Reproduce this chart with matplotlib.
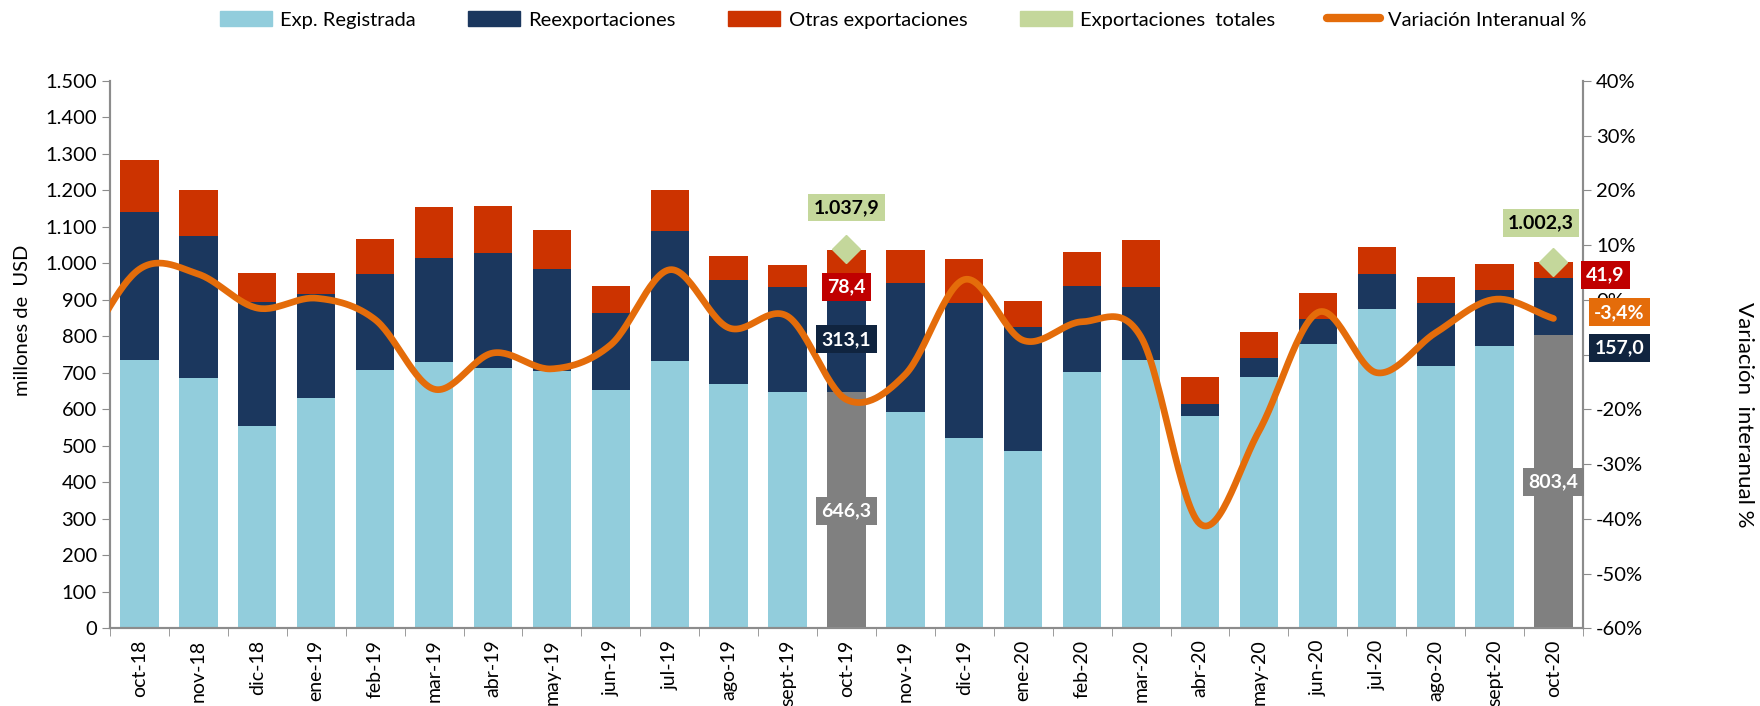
import numpy as np
import matplotlib.pyplot as plt
from matplotlib.patches import Patch
from matplotlib.lines import Line2D

plt.rcParams['font.family'] = ['Lato', 'DejaVu Sans']

# Data (millones de USD)
meses = ['oct-18', 'nov-18', 'dic-18', 'ene-19', 'feb-19', 'mar-19', 'abr-19', 'may-19',
         'jun-19', 'jul-19', 'ago-19', 'sept-19', 'oct-19', 'nov-19', 'dic-19', 'ene-20',
         'feb-20', 'mar-20', 'abr-20', 'may-20', 'jun-20', 'jul-20', 'ago-20', 'sept-20', 'oct-20']
exp_registrada = [735, 685, 555, 631, 709, 729, 713, 704, 653, 732, 669, 649, 646.3,
                  593, 521, 486, 702, 736, 581, 688, 779, 875, 718, 773, 803.4]
reexportaciones = [406, 391, 338, 284, 263, 285, 316, 281, 211, 356, 286, 287, 313.1,
                   354, 370, 339, 237, 200, 35, 52, 68, 95, 174, 154, 157.0]
otras_exp = [143, 124, 80, 58, 95, 141, 127, 107, 75, 114, 65, 59, 78.4,
             90, 121, 72, 92, 127, 72, 71, 73, 75, 71, 72, 41.9]
# variación interanual %, first value is sept-18 (only partly visible at the left edge)
var_meses = ['sept-18'] + meses
var_interanual = [-10.0, 5.6, 4.7, -1.5, 0.3, -3.6, -16.3, -9.7, -12.6, -8.2, 5.5, -5.1, -3.0,
                  -18.2, -13.6, 3.7, -7.4, -4.0, -6.8, -40.9, -24.0, -2.3, -13.3, -6.0, 0.1, -3.4]
destacados = ['oct-19', 'oct-20']
totales_destacados = [1037.9, 1002.3]

c_reg = '#92CDDC'
c_reex = '#1B375E'
c_otras = '#CC3300'
c_total = '#C4D79B'
c_var = '#E46C0A'
c_gris = '#808080'
c_spine = '#8C8C8C'


def fmt(v, dec=1):
    s = f'{v:,.{dec}f}'
    return s.replace(',', 'X').replace('.', ',').replace('X', '.')


def smooth(y, n=30):
    # Excel-like smoothed line (Catmull-Rom through the points)
    y = np.asarray(y, float)
    m = np.empty_like(y)
    m[1:-1] = (y[2:] - y[:-2]) / 2
    m[0] = y[1] - y[0]
    m[-1] = y[-1] - y[-2]
    xs, ys = [], []
    t = np.linspace(0, 1, n, endpoint=False)
    for i in range(len(y) - 1):
        h00 = 2 * t**3 - 3 * t**2 + 1
        h10 = t**3 - 2 * t**2 + t
        h01 = -2 * t**3 + 3 * t**2
        h11 = t**3 - t**2
        xs.append(i + t)
        ys.append(h00 * y[i] + h10 * m[i] + h01 * y[i + 1] + h11 * m[i + 1])
    xs.append([len(y) - 1])
    ys.append([y[-1]])
    return np.concatenate(xs), np.concatenate(ys)


x = np.arange(len(meses))
reg = np.array(exp_registrada)
reex = np.array(reexportaciones)
otr = np.array(otras_exp)
col_reg = [c_gris if m in destacados else c_reg for m in meses]

fig = plt.figure(figsize=(17.6, 7.06), dpi=100)
ax = fig.add_axes([0.0625, 0.1098, 0.8369, 0.7758])
w = 0.65
ax.bar(x, reg, w, color=col_reg, zorder=2)
ax.bar(x, reex, w, bottom=reg, color=c_reex, zorder=2)
ax.bar(x, otr, w, bottom=reg + reex, color=c_otras, zorder=2)

ax.set_xlim(-0.5, len(meses) - 0.5)
ax.set_ylim(0, 1500)
ax.set_yticks(np.arange(0, 1501, 100))
ax.set_yticklabels([fmt(v, 0) for v in np.arange(0, 1501, 100)], fontsize=14.5)
ax.set_xticks(x)
ax.set_xticklabels(meses, rotation=90, fontsize=14)
ax.set_xticks(np.arange(-0.5, len(meses), 1), minor=True)
ax.tick_params(axis='x', which='major', length=0, pad=8)
ax.tick_params(axis='x', which='minor', length=6, direction='out', color=c_spine)
ax.tick_params(axis='y', length=6, direction='out', color=c_spine)
ax.spines['top'].set_visible(False)
for s in ['left', 'bottom', 'right']:
    ax.spines[s].set_color(c_spine)
    ax.spines[s].set_linewidth(1.5)
fig.text(0.0125, 0.547, 'millones de  USD', fontsize=14.5, rotation=90, ha='center', va='center')

ax2 = ax.twinx()
ax2.set_ylim(-60, 40)
ax2.set_yticks(np.arange(-60, 41, 10))
ax2.set_yticklabels([f'{v}%' for v in np.arange(-60, 41, 10)], fontsize=14.5)
ax2.tick_params(axis='y', length=6, direction='out', color=c_spine)
ax2.spines['top'].set_visible(False)
for s in ['left', 'bottom', 'right']:
    ax2.spines[s].set_color(c_spine)
    ax2.spines[s].set_linewidth(1.5)
fig.text(0.991, 0.412, 'Variación  interanual %', fontsize=16, rotation=270, ha='center', va='center')

xs, ys = smooth(var_interanual)
ax2.plot(xs - 1, ys, color=c_var, lw=4.8, solid_capstyle='round', zorder=3)

# diamonds for total exports on highlighted months
for m, tot in zip(destacados, totales_destacados):
    i = meses.index(m)
    ax2.plot(i, tot, marker='D', ms=14, color=c_total, transform=ax.transData, zorder=4)


def etiqueta(xv, yv, txt, fc, tc='white'):
    ax2.text(xv, yv, txt, transform=ax.transData, ha='center', va='center', fontsize=14,
             fontweight='bold', color=tc, zorder=6,
             bbox=dict(boxstyle='square,pad=0.28', fc=fc, ec='none'))


i19 = meses.index('oct-19')
i20 = meses.index('oct-20')
etiqueta(i19, 1153, fmt(totales_destacados[0]), c_total, 'black')
etiqueta(i19, 935, fmt(otras_exp[i19]), '#C00000')
etiqueta(i19, 792, fmt(reexportaciones[i19]), '#10243F')
etiqueta(i19, 322, fmt(exp_registrada[i19]), c_gris)
etiqueta(i20 - 0.21, 1110, fmt(totales_destacados[1]), c_total, 'black')
etiqueta(i20 + 0.88, 968, fmt(otras_exp[i20]), '#C00000')
etiqueta(i20 + 1.12, 866, fmt(var_interanual[-1]) + '%', c_var)
etiqueta(i20 + 1.12, 768, fmt(reexportaciones[i20]), '#10243F')
etiqueta(i20, 402, fmt(exp_registrada[i20]), c_gris)

handles = [Patch(color=c_reg), Patch(color=c_reex), Patch(color=c_otras), Patch(color=c_total),
           Line2D([], [], color=c_var, lw=6, solid_capstyle='round')]
labels = ['Exp. Registrada', 'Reexportaciones', 'Otras exportaciones', 'Exportaciones  totales',
          'Variación Interanual %']
fig.legend(handles, labels, loc='center', bbox_to_anchor=(0.513, 0.972), ncol=5, frameon=False,
           fontsize=14.5, handlelength=2.6, handleheight=0.8, columnspacing=2.6, handletextpad=0.4)

fig.savefig('out.png', dpi=100)
